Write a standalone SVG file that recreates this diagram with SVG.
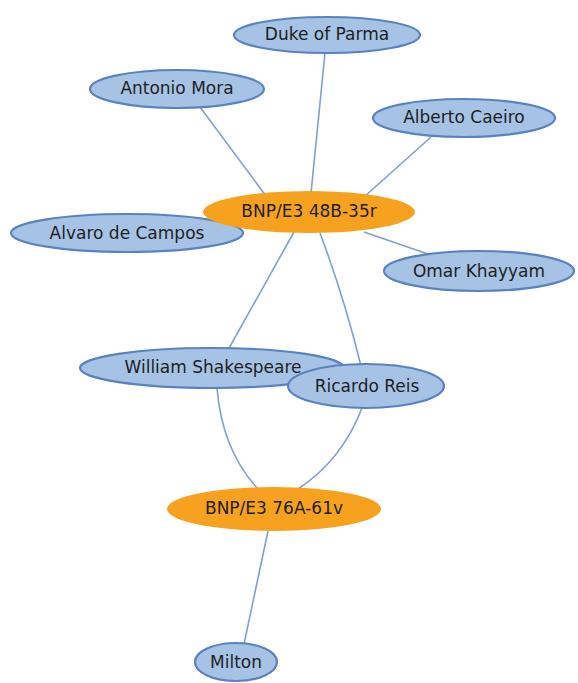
<svg xmlns="http://www.w3.org/2000/svg" width="578" height="683" viewBox="0 0 578 683">
<style>
.e{fill:none;stroke:#7f9fd3;stroke-width:1.6}
.p ellipse{fill:#a6c3e6;stroke:#5a82bd;stroke-width:2.2}
.d ellipse{fill:#f6a21e;stroke:none}
text{font-family:"DejaVu Sans",Verdana,sans-serif;font-size:17px;fill:#1e1e1e;text-anchor:middle;dominant-baseline:central}
</style>
<rect width="578" height="683" fill="#fff"/>
<g id="edges">
<path class="e" d="M325,53 L311,193"/>
<path class="e" d="M200,107 L266,196"/>
<path class="e" d="M431,137 L364,197"/>
<path class="e" d="M428,254 L364,232"/>
<path class="e" d="M294,232 L228,350"/>
<path class="e" d="M320,233 Q345,300 361,366"/>
<path class="e" d="M217,388 Q222,450 258,489"/>
<path class="e" d="M362,408 Q342,460 298,489"/>
<path class="e" d="M268,531 L244,644"/>
</g>
<g id="duke" class="p"><ellipse cx="327" cy="35" rx="93" ry="18"/><text x="327" y="34">Duke of Parma</text></g>
<g id="mora" class="p"><ellipse cx="177" cy="89" rx="87" ry="19"/><text x="177" y="88">Antonio Mora</text></g>
<g id="caeiro" class="p"><ellipse cx="464" cy="118" rx="91" ry="19"/><text x="464" y="117">Alberto Caeiro</text></g>
<g id="campos" class="p"><ellipse cx="127" cy="233" rx="116" ry="19"/><text x="127" y="233">Alvaro de Campos</text></g>
<g id="bnp48" class="d"><ellipse cx="309" cy="212" rx="106" ry="21"/><text x="309" y="211">BNP/E3 48B-35r</text></g>
<g id="khayyam" class="p"><ellipse cx="479" cy="271" rx="95" ry="20"/><text x="479" y="271">Omar Khayyam</text></g>
<g id="shakespeare" class="p"><ellipse cx="212" cy="368" rx="132" ry="20"/><text x="213" y="367">William Shakespeare</text></g>
<g id="reis" class="p"><ellipse cx="366" cy="386" rx="78" ry="22"/><text x="367" y="386">Ricardo Reis</text></g>
<g id="bnp76" class="d"><ellipse cx="274" cy="509" rx="107" ry="22"/><text x="274" y="508">BNP/E3 76A-61v</text></g>
<g id="milton" class="p"><ellipse cx="236" cy="662" rx="41" ry="19"/><text x="236" y="662">Milton</text></g>
</svg>
